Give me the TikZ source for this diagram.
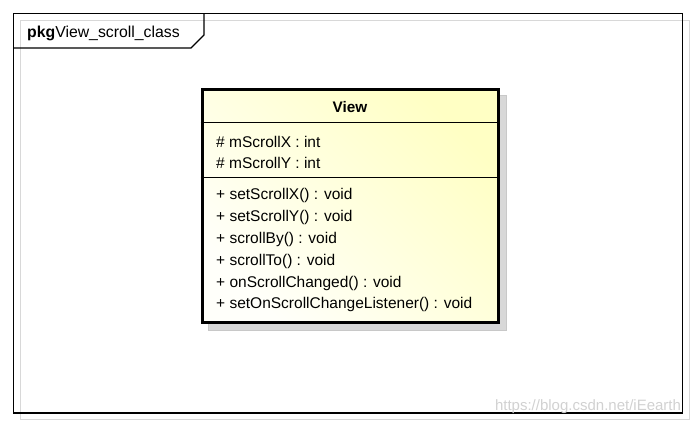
\documentclass[tikz,border=0pt]{standalone}
\usepackage{fontspec}
\setmainfont{Liberation Sans}
\definecolor{classlight}{RGB}{255,255,250}
\definecolor{classdark}{RGB}{255,255,196}
\definecolor{shadowgray}{RGB}{216,216,216}
\definecolor{shadowline}{RGB}{200,200,200}
\tikzset{
  member/.style={anchor=west,inner sep=0pt,font=\fontsize{15.5}{17}\selectfont},
  classbox/.style={draw,line width=3pt,minimum width=296pt,minimum height=233pt,
    shading=axis,top color=classlight,bottom color=classdark,shading angle=135}
}
\begin{document}
\begin{tikzpicture}[x=1pt,y=-1pt]
      \useasboundingbox (0,0) rectangle (696,426);
      % package frame
      \draw[shadowgray,line width=1.5pt] (20.5,20.5) rectangle (689.5,419.5);
      \draw[line width=1.2pt] (13.5,13.5) rectangle (682.5,413);
      \draw[line width=1.2pt] (13.5,48) -- (191,48) -- (204,35) -- (204,13.5);
      \node[anchor=west,inner sep=0pt,font=\fontsize{15.8}{17}\selectfont] (pkg) at (27,33)
        {\textbf{pkg}View\_scroll\_class};
      % class
      \fill[shadowgray,draw=shadowline] (208,95) rectangle (506,330);
      \node[classbox] (view) at (350,205.5) {};
      \node[font=\bfseries\fontsize{15.3}{17}\selectfont] (title) at (350,107.5) {View};
      \draw (view.west |- 0,122) -- (view.east |- 0,122);
      \draw (view.west |- 0,177) -- (view.east |- 0,177);
      \node[member] (attrx) at (216,141.5) {\# mScrollX : int};
      \node[member] (attry) at (216,162.5) {\# mScrollY : int};
      \node[member] (opa) at (216,195) {+ setScrollX() : void};
      \node[member] (opb) at (216,217) {+ setScrollY() : void};
      \node[member] (opc) at (216,239) {+ scrollBy() : void};
      \node[member] (opd) at (216,261) {+ scrollTo() : void};
      \node[member] (ope) at (216,283) {+ onScrollChanged() : void};
      \node[member] (opf) at (216,304) {+ setOnScrollChangeListener() : void};
      % watermark
      \node[text=black!18,font=\fontsize{15}{17}\selectfont] (mark) at (588,407) {https://blog.csdn.net/iEearth};
\end{tikzpicture}
\end{document}
